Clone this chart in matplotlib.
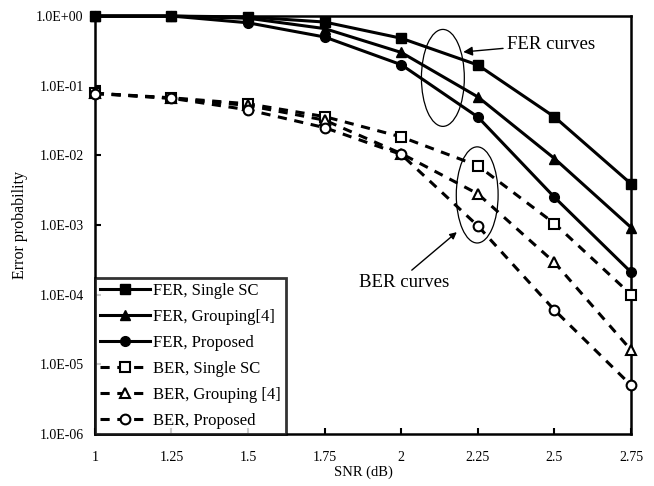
import numpy as np
import matplotlib.pyplot as plt
from matplotlib.patches import Ellipse
from matplotlib.ticker import FixedLocator, FuncFormatter

plt.rcParams['font.family'] = ['Liberation Serif', 'DejaVu Serif']

snr = [1, 1.25, 1.5, 1.75, 2, 2.25, 2.5, 2.75]

fer_single = [1.0, 1.0, 0.97, 0.82, 0.48, 0.198, 0.0356, 0.0039]
fer_group = [1.0, 1.0, 0.93, 0.66, 0.30, 0.069, 0.0090, 0.00092]
fer_prop = [1.0, 1.0, 0.80, 0.50, 0.20, 0.0355, 0.0025, 0.00021]

ber_single = [0.078, 0.067, 0.055, 0.036, 0.0184, 0.0071, 0.00105, 0.000100]
ber_group = [0.078, 0.066, 0.052, 0.032, 0.0106, 0.0028, 0.00029, 0.0000160]
ber_prop = [0.077, 0.066, 0.045, 0.025, 0.0103, 0.00097, 0.000060, 0.0000050]

labels = ['FER, Single SC', 'FER, Grouping[4]', 'FER, Proposed',
          'BER, Single SC', 'BER, Grouping [4]', 'BER, Proposed']

fig = plt.figure(figsize=(6.54, 4.86), dpi=100)
ax = fig.add_axes([0.145, 0.107, 0.820, 0.860])

lw = 2.2
kw = dict(color='black', lw=lw, ms=7, clip_on=False, zorder=3)
kw_b = dict(kw, mfc='white', mew=1.5, dashes=(3, 2.5))
ax.plot(snr, fer_single, '-s', label=labels[0], **kw)
ax.plot(snr, fer_group, '-^', label=labels[1], **kw)
ax.plot(snr, fer_prop, '-o', label=labels[2], **kw)
ax.plot(snr, ber_single, '--s', label=labels[3], **kw_b)
ax.plot(snr, ber_group, '--^', label=labels[4], **kw_b)
ax.plot(snr, ber_prop, '--o', label=labels[5], **kw_b)

ax.set_yscale('log')
ax.set_ylim(1e-6, 1)
ax.set_xlim(1, 2.75)
ax.yaxis.set_major_locator(FixedLocator([10.0 ** k for k in range(-6, 1)]))
ax.yaxis.set_minor_locator(FixedLocator([]))
ax.yaxis.set_major_formatter(FuncFormatter(
    lambda v, p: '1.0E+00' if v >= 1 else '1.0E-%02d' % round(-np.log10(v))))
ax.set_xticks(snr)
ax.set_xticklabels(['1', '1.25', '1.5', '1.75', '2', '2.25', '2.5', '2.75'])
ax.tick_params(direction='in', length=4, width=1.5, labelsize=10, pad=12)
ax.tick_params(axis='y', pad=8)

for sp in ax.spines.values():
    sp.set_linewidth(1.8)

ax.set_xlabel('SNR (dB)', fontsize=10.5, labelpad=1)
ax.set_ylabel('Error probability', fontsize=11.5, labelpad=6)

leg = ax.legend(loc='lower left', fontsize=12, frameon=True, fancybox=False,
                edgecolor='black', handlelength=3.0, borderaxespad=0,
                labelspacing=0.6, handletextpad=0.2, borderpad=0.3)
leg.get_frame().set_linewidth(2.0)
leg.set_zorder(5)

ax.add_patch(Ellipse((0.649, 0.852), 0.080, 0.232, transform=ax.transAxes,
                     fill=False, lw=0.9, color='black'))
ax.add_patch(Ellipse((0.713, 0.572), 0.078, 0.230, transform=ax.transAxes,
                     fill=False, lw=0.9, color='black'))

ax.annotate('FER curves', xy=(0.687, 0.914), xytext=(0.769, 0.933),
            xycoords='axes fraction', textcoords='axes fraction',
            fontsize=13.5, va='center', ha='left',
            arrowprops=dict(arrowstyle='-|>', color='black', lw=1.0,
                            shrinkA=1, shrinkB=0))
ax.annotate('', xy=(0.675, 0.483), xytext=(0.591, 0.392),
            xycoords='axes fraction', textcoords='axes fraction',
            arrowprops=dict(arrowstyle='-|>', color='black', lw=1.0,
                            shrinkA=0, shrinkB=0))
ax.text(0.576, 0.362, 'BER curves', transform=ax.transAxes,
        fontsize=13.5, va='center', ha='center')

fig.savefig('out.png', dpi=100)
